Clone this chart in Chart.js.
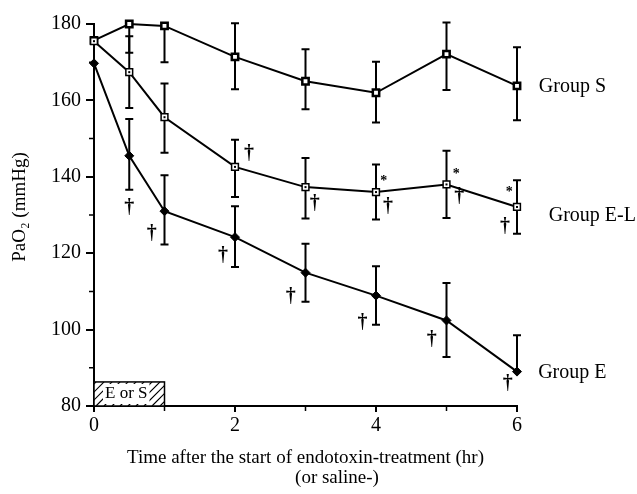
<!DOCTYPE html>
<html>
<head>
<meta charset="utf-8">
<script src="https://cdn.jsdelivr.net/npm/chart.js@4.4.1/dist/chart.umd.min.js"></script>
<style>
html, body { margin: 0; padding: 0; background: #fff; }
</style>
</head>
<body>
<canvas id="chart" width="637" height="494"></canvas>
<script>
// time points (hr)
var hours = [0, 0.5, 1, 2, 3, 4, 5, 6];

// Group S (saline)
var groupS = [175.7, 180, 179.5, 171.4, 165, 162, 172.1, 163.8];
var groupSHi = [null, null, null, 180.2, 173.4, 170.1, 180.4, 173.9];
var groupSLo = [null, 172.5, 170, 162.9, 157.7, 154.2, 162.7, 154.8];

// Group E-L
var groupEL = [175.5, 167.4, 155.6, 142.6, 137.3, 136.0, 138.0, 132.1];
var groupELHi = [null, 176.8, 164.4, 149.7, 144.9, 143.2, 146.8, 139.1];
var groupELLo = [null, 158.0, 146.3, 134.7, 129.1, 128.8, 129.2, 125.1];

// Group E (endotoxin)
var groupE = [169.7, 145.5, 131.0, 124.2, 114.9, 108.9, 102.4, 89.0];
var groupEHi = [null, 155.1, 140.4, 132.3, 122.5, 116.6, 112.2, 98.5];
var groupELo = [null, 136.6, 122.3, 116.4, 107.3, 101.3, 92.8, null];

// axis ticks
var xMinorTicks = [1, 3, 5];
var yMinorTicks = [90, 110, 130, 150, 170];

// significance marks [hr, PaO2]
var daggersE = [[0.5, 131.8], [0.82, 125.2], [1.83, 119.4], [2.79, 108.5], [3.81, 101.7], [4.79, 97.4], [5.87, 85.9]];
var daggersEL = [[2.2, 146.1], [3.13, 133], [4.17, 132.1], [5.18, 134.7], [5.83, 126.9]];
var starsEL = [[4.11, 138.7], [5.14, 140.7], [5.89, 135.8]];

// group labels [text, hr, PaO2]
var groupLabels = [['Group S', 6.31, 163.6], ['Group E-L', 6.45, 129.9], ['Group E', 6.3, 88.8]];

// infusion period box
var infusion = [0, 1];
var infusionTop = 86.3;

var serif = "'Liberation Serif', 'Times New Roman', serif";

function xy(xs, ys) {
    return xs.map(function (t, i) { return { x: t, y: ys[i] }; });
}

var extras = {
    id: 'extras',
    beforeDatasetsDraw: function (chart) {
        var ctx = chart.ctx, sx = chart.scales.x, sy = chart.scales.y;
        var groups = [[groupS, groupSHi, groupSLo], [groupEL, groupELHi, groupELLo], [groupE, groupEHi, groupELo]];
        ctx.save();
        ctx.strokeStyle = '#000';
        ctx.lineWidth = 2;
        groups.forEach(function (g) {
            hours.forEach(function (t, i) {
                var px = sx.getPixelForValue(t);
                var mid = sy.getPixelForValue(g[0][i]);
                var top = g[1][i] != null ? sy.getPixelForValue(g[1][i]) : mid;
                var bot = g[2][i] != null ? sy.getPixelForValue(g[2][i]) : mid;
                if (top === bot) return;
                ctx.beginPath();
                ctx.moveTo(px, top);
                ctx.lineTo(px, bot);
                if (g[1][i] != null) { ctx.moveTo(px - 4, top); ctx.lineTo(px + 4, top); }
                if (g[2][i] != null) { ctx.moveTo(px - 4, bot); ctx.lineTo(px + 4, bot); }
                ctx.stroke();
            });
        });
        ctx.restore();
    },
    afterDraw: function (chart) {
        var ctx = chart.ctx, sx = chart.scales.x, sy = chart.scales.y;
        var area = chart.chartArea;
        ctx.save();
        ctx.strokeStyle = '#000';
        ctx.fillStyle = '#000';
        ctx.lineWidth = 1.5;

        // minor ticks
        ctx.beginPath();
        yMinorTicks.forEach(function (v) {
            var py = sy.getPixelForValue(v);
            ctx.moveTo(area.left - 5, py);
            ctx.lineTo(area.left, py);
        });
        xMinorTicks.forEach(function (t) {
            var px = sx.getPixelForValue(t);
            ctx.moveTo(px, area.bottom);
            ctx.lineTo(px, area.bottom + 5);
        });
        ctx.stroke();

        // dots inside E-L squares
        hours.forEach(function (t, i) {
            ctx.fillRect(sx.getPixelForValue(t) - 1, sy.getPixelForValue(groupEL[i]) - 1, 2, 2);
        });

        // infusion box
        var bx0 = sx.getPixelForValue(infusion[0]), bx1 = sx.getPixelForValue(infusion[1]);
        var by0 = sy.getPixelForValue(infusionTop), by1 = sy.getPixelForValue(80);
        ctx.fillStyle = '#fff';
        ctx.fillRect(bx0, by0, bx1 - bx0, by1 - by0);
        ctx.save();
        ctx.beginPath();
        ctx.rect(bx0, by0, bx1 - bx0, by1 - by0);
        ctx.clip();
        ctx.lineWidth = 1.2;
        ctx.beginPath();
        for (var hx = bx0 - 30; hx < bx1 + 30; hx += 8) {
            ctx.moveTo(hx, by1);
            ctx.lineTo(hx + (by1 - by0), by0);
        }
        ctx.stroke();
        ctx.font = '17px ' + serif;
        ctx.textAlign = 'center';
        ctx.textBaseline = 'middle';
        var label = 'E or S';
        var lw = ctx.measureText(label).width;
        var cx = (bx0 + bx1) / 2 - 3, cy = (by0 + by1) / 2;
        ctx.fillStyle = '#fff';
        ctx.fillRect(cx - lw / 2 - 2, by0 + 2, lw + 4, by1 - by0 - 4);
        ctx.fillStyle = '#000';
        ctx.fillText(label, cx, cy);
        ctx.restore();
        ctx.lineWidth = 1.5;
        ctx.strokeRect(bx0, by0, bx1 - bx0, by1 - by0);

        // significance marks
        ctx.fillStyle = '#000';
        ctx.textAlign = 'center';
        ctx.textBaseline = 'middle';
        ctx.font = 'bold 20px ' + serif;
        daggersE.concat(daggersEL).forEach(function (d) {
            ctx.fillText('\u2020', sx.getPixelForValue(d[0]), sy.getPixelForValue(d[1]));
        });
        ctx.font = 'bold 14px ' + serif;
        starsEL.forEach(function (d) {
            ctx.fillText('*', sx.getPixelForValue(d[0]), sy.getPixelForValue(d[1]));
        });

        // group labels
        ctx.font = '20px ' + serif;
        ctx.textAlign = 'left';
        groupLabels.forEach(function (g) {
            ctx.fillText(g[0], sx.getPixelForValue(g[1]), sy.getPixelForValue(g[2]));
        });

        // axis titles
        ctx.font = '19px ' + serif;
        ctx.textAlign = 'center';
        ctx.fillText('Time after the start of endotoxin-treatment (hr)', (area.left + area.right) / 2, 458);
        ctx.fillText('(or saline-)', 337, 478);
        ctx.save();
        ctx.translate(20, 207);
        ctx.rotate(-Math.PI / 2);
        ctx.fillText('PaO\u2082 (mmHg)', 0, 0);
        ctx.restore();

        ctx.restore();
    }
};

var lineStyle = { borderColor: '#000', borderWidth: 2, tension: 0, pointBorderColor: '#000', clip: false };

var config = {
    type: 'line',
    data: {
        datasets: [
            Object.assign({ data: xy(hours, groupE), pointStyle: 'rectRot', pointRadius: 4.5, pointBackgroundColor: '#000', pointBorderWidth: 1 }, lineStyle),
            Object.assign({ data: xy(hours, groupEL), pointStyle: 'rect', pointRadius: 4.8, pointBackgroundColor: '#fff', pointBorderWidth: 1.5 }, lineStyle),
            Object.assign({ data: xy(hours, groupS), pointStyle: 'rect', pointRadius: 4.5, pointBackgroundColor: '#fff', pointBorderWidth: 2.5 }, lineStyle)
        ]
    },
    plugins: [extras],
    options: {
        responsive: false,
        animation: false,
        layout: { padding: { top: 24, right: 120, left: 0, bottom: 0 } },
        plugins: {
            legend: { display: false },
            tooltip: { enabled: false }
        },
        scales: {
            x: {
                type: 'linear',
                min: 0,
                max: 6,
                afterFit: function (s) { s.height = 88; },
                ticks: { stepSize: 2, color: '#000', font: { family: serif, size: 20 }, padding: 2 },
                grid: { drawOnChartArea: false, tickLength: 6, color: '#000', lineWidth: 2 },
                border: { color: '#000', width: 2 }
            },
            y: {
                min: 80,
                max: 180,
                afterFit: function (s) { s.width = 94; },
                ticks: { stepSize: 20, color: '#000', font: { family: serif, size: 20 }, padding: 5 },
                grid: { drawOnChartArea: false, tickLength: 8, color: '#000', lineWidth: 2 },
                border: { color: '#000', width: 2 }
            }
        }
    }
};

var chart = new Chart(document.getElementById('chart').getContext('2d'), config);
</script>
</body>
</html>
